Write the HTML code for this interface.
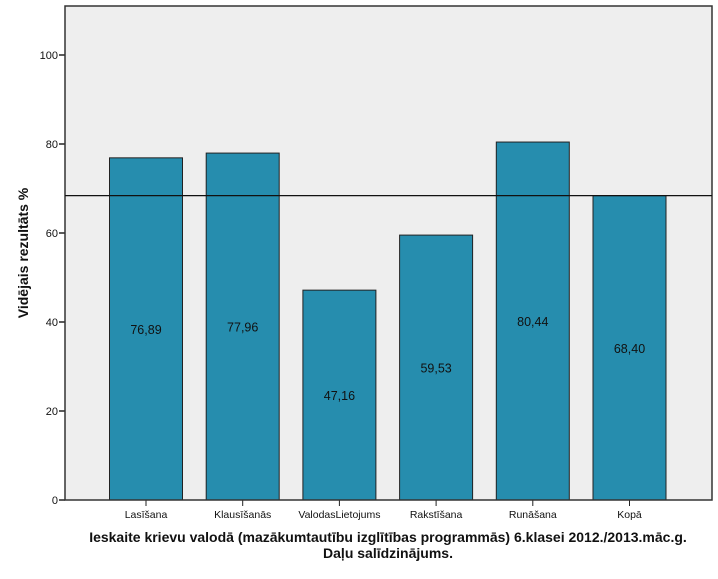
<!DOCTYPE html>
<html><head><meta charset="utf-8"><style>
body{margin:0;background:#fff;width:718px;height:574px;overflow:hidden}
svg{font-family:"Liberation Sans",sans-serif}
</style></head><body>
<svg id="c" width="718" height="574"></svg>
<script>
const categories=["Lasīšana","Klausīšanās","ValodasLietojums","Rakstīšana","Runāšana","Kopā"];
const values=[76.89,77.96,47.16,59.53,80.44,68.40];
const valueLabels=["76,89","77,96","47,16","59,53","80,44","68,40"];
const yTicks=[0,20,40,60,80,100];
const refValue=68.40;
const NS="http://www.w3.org/2000/svg";
const svg=document.getElementById('c');
const L=65,R=712,T=6,B=500;
const y=v=>B-v*4.45;
const xc=i=>146+i*96.7;
const bw=73;
function mk(tag,attrs,txt){const e=document.createElementNS(NS,tag);for(const k in attrs)e.setAttribute(k,attrs[k]);if(txt!=null)e.textContent=txt;svg.appendChild(e);return e;}
let e=mk('rect',{x:L,y:T,width:R-L,height:B-T,fill:'#eeeeee'});


values.forEach((v,i)=>{
  let r=mk('rect',{x:xc(i)-bw/2,y:y(v),width:bw,height:B-y(v),fill:'#268dae',stroke:'#222','stroke-width':1});
  
  
  let t=mk('text',{x:xc(i),y:(y(v)+B)/2+5,'text-anchor':'middle','font-size':12.5,fill:'#111'},valueLabels[i]);
  
  
  let tk=mk('line',{x1:xc(i),x2:xc(i),y1:B,y2:B+6,stroke:'#222'});
  
  
  let xl=mk('text',{x:xc(i),y:B+18,'text-anchor':'middle','font-size':10.5,fill:'#111'},categories[i]);
  
  
});
yTicks.forEach(v=>{
  let tk=mk('line',{x1:L-6,x2:L,y1:y(v),y2:y(v),stroke:'#222','stroke-width':1.5});
  
  
  let t=mk('text',{x:L-7,y:y(v)+4,'text-anchor':'end','font-size':11,fill:'#111'},v);
  
  
});
e=mk('rect',{x:L,y:T,width:R-L,height:B-T,fill:'none',stroke:'#333','stroke-width':1.5});


e=mk('line',{x1:L,x2:R,y1:y(refValue),y2:y(refValue),stroke:'#111','stroke-width':1.3});


e=mk('text',{x:0,y:0,transform:'translate(28,253) rotate(-90)','text-anchor':'middle','font-size':14,'font-weight':'bold',fill:'#111'},'Vidējais rezultāts %');


e=mk('text',{x:388,y:542,'text-anchor':'middle','font-size':14,'font-weight':'bold',fill:'#111'},'Ieskaite krievu valodā (mazākumtautību izglītības programmās) 6.klasei 2012./2013.māc.g.');


e=mk('text',{x:388,y:558,'text-anchor':'middle','font-size':14,'font-weight':'bold',fill:'#111'},'Daļu salīdzinājums.');


</script>
</body></html>
